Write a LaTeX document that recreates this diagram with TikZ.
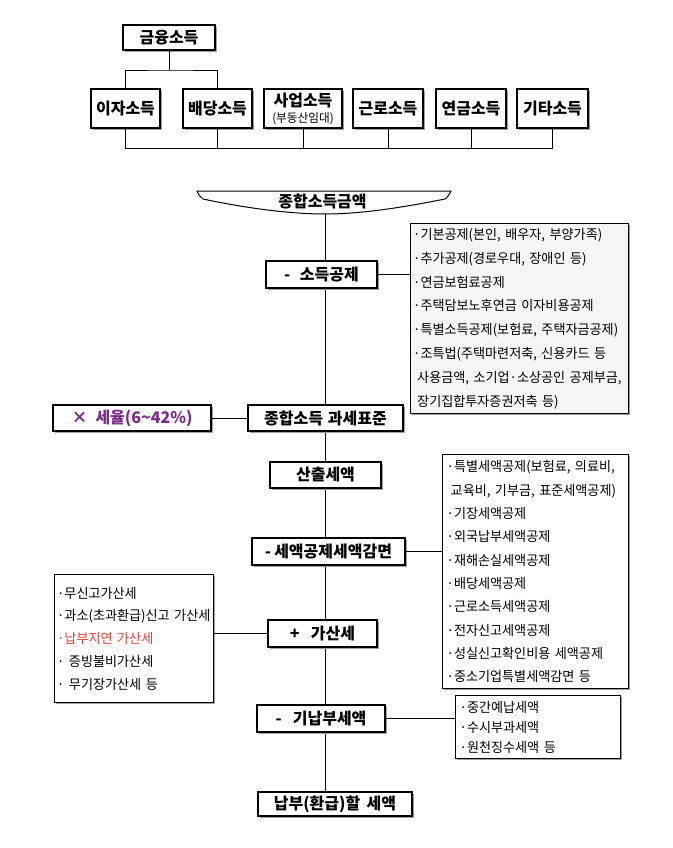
\documentclass[tikz,border=0pt]{standalone}
\usepackage{fontspec}
\setmainfont{Noto Sans CJK KR}
\newfontfamily\lstfont{Noto Sans CJK KR}[FakeStretch=0.97]
\usetikzlibrary{shadows}
\pgfdeclarelayer{bg}
\pgfsetlayers{bg,main}
\definecolor{ratepurple}{HTML}{7B2C8A}
\definecolor{latered}{HTML}{E8403A}
\begin{document}
\begin{tikzpicture}[x=1pt,y=-1pt,
  shad/.style={drop shadow={shadow xshift=1.6pt,shadow yshift=-1.6pt,fill=gray!75,opacity=1}},
  mainbox/.style={draw,line width=1.4pt,fill=white,inner sep=0pt,shad,
    font=\fontsize{16}{19}\selectfont\bfseries},
  listbox/.style={draw,line width=1.3pt,fill=white,inner ysep=0pt,inner xsep=2.5pt,
    align=left,anchor=north west,shad},
  conn/.style={line width=0.8pt}]
\useasboundingbox (0,0) rectangle (672,848);

% ---- top tree ----
\node[mainbox,minimum width=92,minimum height=25] (fin) at (169,37.5) {금융소득};
\node[mainbox,minimum width=69,minimum height=39] (ija) at (125.5,108.5) {이자소득};
\node[mainbox,minimum width=69,minimum height=39] (bae) at (217.5,108.5) {배당소득};
\node[mainbox,minimum width=78,minimum height=39,align=center] (sa) at (303,108.5)
  {사업소득\\[-3pt]{\mdseries\lstfont\fontsize{12}{13}\selectfont (부동산임대)}};
\node[mainbox,minimum width=70,minimum height=39] (geun) at (388,108.5) {근로소득};
\node[mainbox,minimum width=70,minimum height=39] (yeon) at (471,108.5) {연금소득};
\node[mainbox,minimum width=71,minimum height=39] (gita) at (552.5,108.5) {기타소득};

\coordinate (topbus) at (0,70);
\coordinate (botbus) at (0,148);
\draw[conn] (fin.south) -- (fin.south |- topbus);
\draw[conn] (ija.north) |- (fin.south |- topbus) -| (bae.north);
\draw[conn] (ija.south) |- (gita.south |- botbus) -- (gita.south);
\foreach \n in {bae,sa,geun,yeon} \draw[conn] (\n.south) -- (\n.south |- botbus);

% ---- banner ----
\draw[line width=1pt,fill=white] (197,191) -- (451,191)
  .. controls (449,195) and (447,198) .. (445,199)
  .. controls (400,208) and (360,214) .. (325,214)
  .. controls (290,214) and (245,208) .. (203,199)
  .. controls (200,197) and (198,194) .. (197,191) -- cycle;
\node[font=\fontsize{16}{19}\selectfont\bfseries,inner sep=0pt] (total) at (322.5,201) {종합소득금액};
\coordinate (bannerbottom) at (325,214);

% ---- main column ----
\node[mainbox,minimum width=111,minimum height=27] (sodeuk) at (321.5,274.5) {-\hspace{0.6em}소득공제};
\node[mainbox,minimum width=155,minimum height=26] (gwase) at (325.5,418) {종합소득\hspace{0.3em}과세표준};
\node[mainbox,minimum width=158,minimum height=26,text=ratepurple] (rate) at (132,418) {×\hspace{0.5em}세율(6\textasciitilde 42\%)};
\node[mainbox,minimum width=111,minimum height=26] (sanchul) at (325.5,475) {산출세액};
\node[mainbox,minimum width=153,minimum height=27] (gongje) at (328.5,551.5) {-\hspace{0.2em}세액공제세액감면};
\node[mainbox,minimum width=109,minimum height=27] (gasan) at (322.5,633.5) {+\hspace{0.7em}가산세};
\node[mainbox,minimum width=128,minimum height=27] (ginap) at (321,718.5) {-\hspace{0.7em}기납부세액};
\node[mainbox,minimum width=154,minimum height=24] (final) at (335,804) {납부(환급)할\hspace{0.4em}세액};

% ---- list boxes ----
\node[listbox,fill=gray!8,minimum width=218,minimum height=190,text width=213,
  font=\lstfont\fontsize{13.5}{23.9}\selectfont] (L1) at (410,223)
 {·기본공제(본인, 배우자, 부양가족)\\
  ·추가공제(경로우대, 장애인 등)\\
  ·연금보험료공제\\
  ·주택담보노후연금 이자비용공제\\
  ·특별소득공제(보험료, 주택자금공제)\\
  ·조특법(주택마련저축, 신용카드 등\\
  \hspace{0.3em}사용금액, 소기업·소상공인 공제부금,\\
  \hspace{0.3em}장기집합투자증권저축 등)};

\node[listbox,minimum width=186,minimum height=234,text width=178,inner xsep=4pt,
  font=\lstfont\fontsize{13.5}{23.3}\selectfont] (L2) at (442,454)
 {·특별세액공제(보험료, 의료비,\\
  \hspace{0.3em}교육비, 기부금, 표준세액공제)\\
  ·기장세액공제\\
  ·외국납부세액공제\\
  ·재해손실세액공제\\
  ·배당세액공제\\
  ·근로소득세액공제\\
  ·전자신고세액공제\\
  ·성실신고확인비용 세액공제\\
  ·중소기업특별세액감면 등};

\node[listbox,minimum width=159,minimum height=128,text width=154,
  font=\lstfont\fontsize{13.5}{22.8}\selectfont] (LL) at (54,574)
 {·무신고가산세\\
  ·과소(초과환급)신고 가산세\\
  {\color{latered}·납부지연 가산세}\\
  · 증빙불비가산세\\
  · 무기장가산세 등};

\node[listbox,minimum width=165,minimum height=63,text width=157,inner xsep=4pt,
  font=\lstfont\fontsize{13.5}{20}\selectfont] (L3) at (455,695)
 {·중간예납세액\\
  ·수시부과세액\\
  ·원천징수세액 등};

% ---- connectors ----
\begin{pgfonlayer}{bg}
\fill[white] (0,0) rectangle (672,848);
\draw[conn] (bannerbottom) -- (bannerbottom |- final.north);
\end{pgfonlayer}
\draw[conn] (sodeuk.east) -- (sodeuk.east -| L1.west);
\draw[conn] (rate.east) -- (gwase.west);
\draw[conn] (gongje.east) -- (gongje.east -| L2.west);
\draw[conn] (gasan.west) -- (gasan.west -| LL.east);
\draw[conn] (ginap.east) -- (ginap.east -| L3.west);
\end{tikzpicture}
\end{document}
